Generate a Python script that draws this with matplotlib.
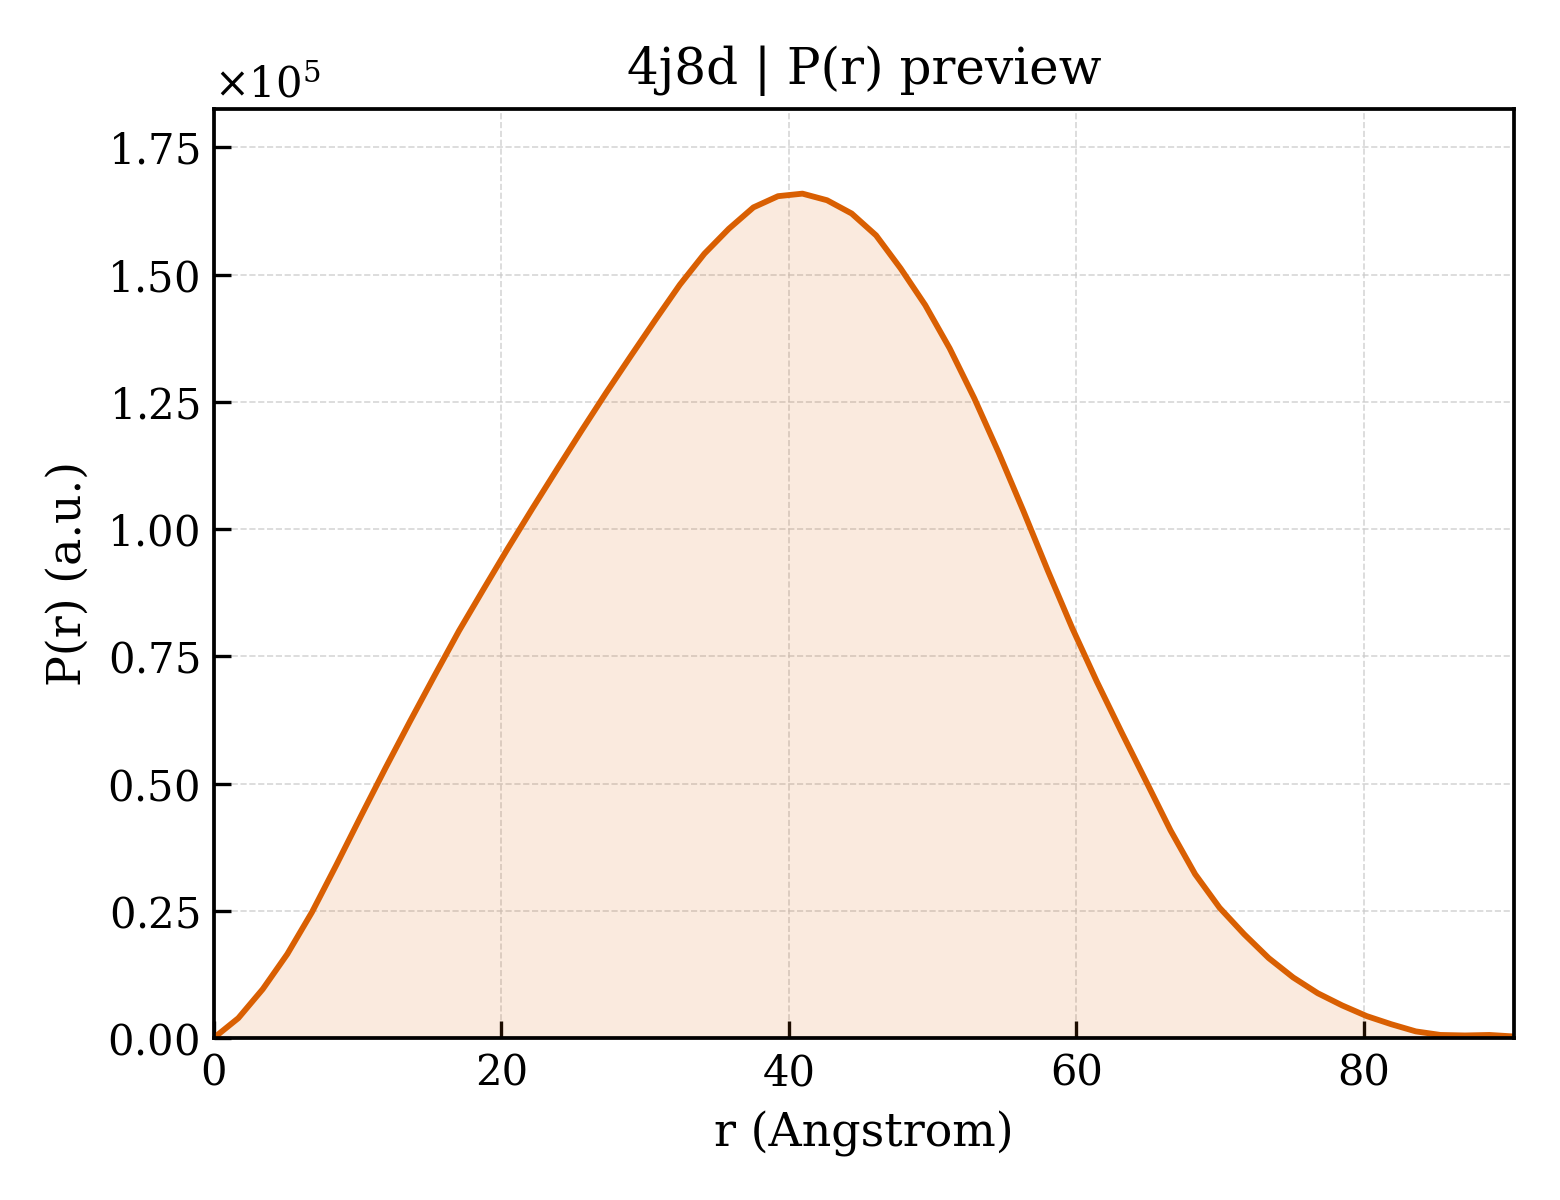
import matplotlib
matplotlib.use("Agg")
import matplotlib.pyplot as plt
from matplotlib.ticker import ScalarFormatter

r_values = [0.00, 1.71, 3.41, 5.12, 6.83, 8.53, 10.24, 11.94, 13.65, 15.36,
            17.06, 18.77, 20.48, 22.18, 23.89, 25.60, 27.30, 29.01, 30.72, 32.42,
            34.13, 35.83, 37.54, 39.25, 40.95, 42.66, 44.37, 46.07, 47.78, 49.49,
            51.19, 52.90, 54.60, 56.31, 58.02, 59.72, 61.43, 63.14, 64.84, 66.55,
            68.26, 69.96, 71.67, 73.38, 75.08, 76.79, 78.49, 80.20, 81.91, 83.61,
            85.32, 87.03, 88.73, 90.44]

p_values = [0, 3900, 9600, 16500, 24700, 34000, 43600, 53000, 62200, 71200,
            80000, 88200, 96300, 104100, 111800, 119400, 126800, 134000, 141100, 148000,
            154100, 159000, 163200, 165400, 165900, 164600, 162000, 157700, 151200, 144000,
            135500, 125700, 115000, 103600, 91800, 80500, 70000, 60100, 50500, 40800,
            32200, 25600, 20400, 15700, 11900, 8800, 6400, 4300, 2700, 1300,
            600, 500, 600, 300]

title = "4j8d | P(r) preview"
xlabel = "r (Angstrom)"
ylabel = "P(r) (a.u.)"
color = "#D95F02"

plt.rcParams['font.family'] = ['DejaVu Serif']
plt.rcParams['mathtext.fontset'] = 'dejavuserif'

fig = plt.figure(figsize=(5.2, 4.0), dpi=300)
ax = fig.add_axes([0.137, 0.135, 0.8335, 0.774])

ax.fill_between(r_values, p_values, 0, color=color, alpha=0.13, linewidth=0)
ax.plot(r_values, p_values, color=color, linewidth=1.4)

ax.set_xlim(0, max(r_values))
ax.set_ylim(0, max(p_values) * 1.1)

ax.grid(True, linestyle='--', linewidth=0.4, color='#cccccc', alpha=0.8)
ax.set_axisbelow(True)

fmt = ScalarFormatter(useMathText=True)
fmt.set_powerlimits((0, 0))
ax.yaxis.set_major_formatter(fmt)
ax.yaxis.get_offset_text().set_fontsize(10)

ax.tick_params(direction='in', length=4, width=0.8, labelsize=10)
for s in ax.spines.values():
    s.set_linewidth(0.9)

ax.set_title(title, fontsize=12)
ax.set_xlabel(xlabel, fontsize=11)
ax.set_ylabel(ylabel, fontsize=11)

fig.savefig("out.png", dpi=300)
